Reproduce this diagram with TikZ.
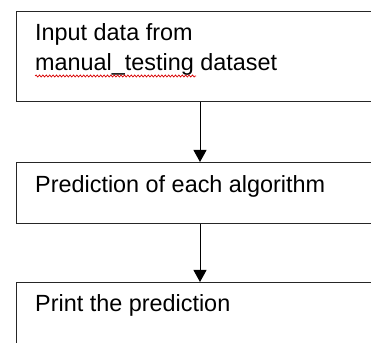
\documentclass[tikz,border=0pt]{standalone}
\usepackage{fontspec}
\setmainfont{Liberation Sans}
\usetikzlibrary{arrows.meta,decorations.pathmorphing}
\begin{document}
\begin{tikzpicture}[x=1pt,y=1pt,
  box/.style={draw=black!85,line width=1pt,rectangle,inner sep=0pt,anchor=north west,minimum width=404pt},
  txt/.style={inner sep=0pt,anchor=base west,align=left,font=\fontsize{23.4}{30.5}\selectfont},
  arr/.style={draw=black,line width=1pt,-{Triangle[width=13pt,length=12pt]}}]
\useasboundingbox (0,0) rectangle (371,342);
\clip (0,0) rectangle (371,342);
\fill[white] (0,0) rectangle (371,342);
\node[box,minimum height=90pt] (b1) at (16,331) {};
\node[box,minimum height=61pt] (b2) at (16,180) {};
\node[box,minimum height=100pt] (b3) at (16,60) {};
\coordinate (ax) at (200,0);
\node[txt] (t1) at (35,271) {Input data from\\manual\_testing dataset};
\node[txt] (t2) at (35,149.5) {Prediction of each algorithm};
\node[txt] (t3) at (35,31) {Print the prediction};
\draw[red!85!black,line width=0.7pt,decorate,decoration={snake,segment length=3.4pt,amplitude=1pt}] (35,266) -- (196,266);
\draw[arr] (b1.south -| ax) -- (b2.north -| ax);
\draw[arr] (b2.south -| ax) -- (b3.north -| ax);
\end{tikzpicture}
\end{document}
